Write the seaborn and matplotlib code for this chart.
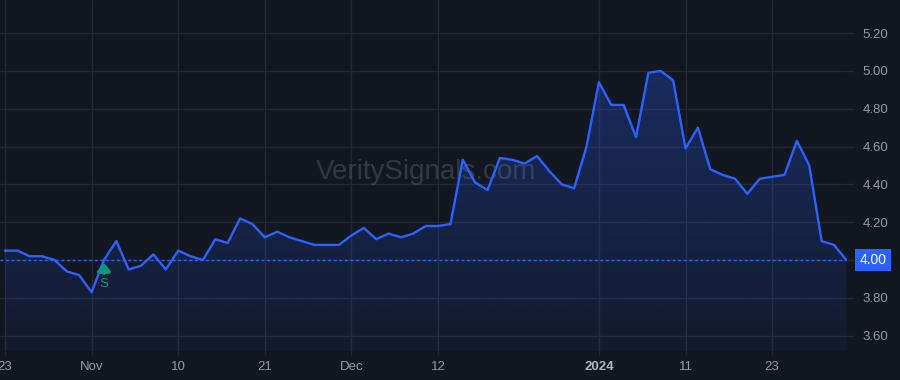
import numpy as np
import pandas as pd
import seaborn as sns
import matplotlib.pyplot as plt
from matplotlib.transforms import offset_copy

# closing prices, one per trading day from 2023-10-23 to 2024-01-31
prices = [4.05, 4.05, 4.02, 4.02, 4.00, 3.94, 3.92, 3.83, 4.00, 4.10,
          3.95, 3.97, 4.03, 3.95, 4.05, 4.02, 4.00, 4.11, 4.09, 4.22,
          4.19, 4.12, 4.15, 4.12, 4.10, 4.08, 4.08, 4.08, 4.13, 4.17,
          4.11, 4.14, 4.12, 4.14, 4.18, 4.18, 4.19, 4.53, 4.41, 4.37,
          4.54, 4.53, 4.51, 4.55, 4.47, 4.40, 4.38, 4.60, 4.94, 4.82,
          4.82, 4.65, 4.99, 5.00, 4.95, 4.59, 4.70, 4.48, 4.45, 4.43,
          4.35, 4.43, 4.44, 4.45, 4.63, 4.50, 4.10, 4.08, 4.00]
holidays = ['2023-11-23', '2023-12-25', '2024-01-01', '2024-01-15']
tick_dates = ['2023-10-23', '2023-11-01', '2023-11-10', '2023-11-21', '2023-12-01',
              '2023-12-12', '2024-01-02', '2024-01-11', '2024-01-23']
tick_labels = ['23', 'Nov', '10', '21', 'Dec', '12', '2024', '11', '23']
price_ticks = [3.60, 3.80, 4.00, 4.20, 4.40, 4.60, 4.80, 5.00, 5.20]
last_price = 4.00
signal_date = '2023-11-02'
signal_label = 'S'

dates = pd.bdate_range('2023-10-23', '2024-01-31', freq='C', holidays=holidays)
df = pd.DataFrame({'date': dates, 'price': prices})
df['idx'] = np.arange(len(df))

BG = '#131722'
GRID = '#242833'
TXT = '#9598a1'
BLUE = '#2962ff'

sns.set_theme(style='dark', rc={'axes.facecolor': BG, 'figure.facecolor': BG})
plt.rcParams['font.family'] = ['Liberation Sans', 'DejaVu Sans']

fig = plt.figure(figsize=(9, 3.8), dpi=100)
ax = fig.add_axes([0, 29 / 380, 847 / 900, 351 / 380])
ax.set_facecolor(BG)

# gradient area under the line
ymin, ymax = 3.519, 5.375
xmin, xmax = -0.4, 68.05
fill = ax.fill_between(df['idx'], df['price'], ymin, color='none', lw=0)
grad = np.zeros((256, 1, 4))
grad[:, 0, :3] = np.array([41, 98, 255]) / 255
grad[:, 0, 3] = np.linspace(0.28, 0.06, 256)
img = ax.imshow(grad, extent=[xmin, xmax, ymin, max(prices)], aspect='auto',
                origin='upper', zorder=1)
img.set_clip_path(fill.get_paths()[0], transform=ax.transData)

sns.lineplot(data=df, x='idx', y='price', color=BLUE, lw=1.7, ax=ax, zorder=3)

ax.axhline(last_price, color=BLUE, lw=1, ls=(0, (2, 2)), zorder=2)

ax.set_xlim(xmin, xmax)
ax.set_ylim(ymin, ymax)

tick_pos = [int(df.index[df['date'] == pd.Timestamp(d)][0]) for d in tick_dates]
ax.set_xticks(tick_pos)
ax.set_xticklabels(tick_labels)
ax.set_yticks(price_ticks)
# the last-price badge stands in for its own tick label
ax.set_yticklabels(['' if p == last_price else f'{p:.2f}' for p in price_ticks])
ax.yaxis.tick_right()
ax.set_xlabel('')
ax.set_ylabel('')
for s in ax.spines.values():
    s.set_visible(False)
ax.grid(True, color=GRID, lw=1)
ax.tick_params(axis='y', colors=GRID, labelcolor=TXT, labelsize=9.5, length=5, width=1, pad=6, right=True)
ax.tick_params(axis='x', colors=GRID, labelcolor=TXT, labelsize=9.5, length=3, width=1, pad=4, bottom=True)
for lab in ax.get_xticklabels():
    if lab.get_text() == '2024':
        lab.set_fontweight('bold')
        lab.set_color('#b2b5be')

# last price badge
ax.text(1.0 + 26 / 847, last_price, f'{last_price:.2f}', transform=ax.get_yaxis_transform(),
        ha='center', va='center', color='white', fontsize=10, zorder=10, clip_on=False,
        bbox=dict(boxstyle='square,pad=0.3', fc=BLUE, ec='none'))

# signal marker
si = int(df.index[df['date'] == pd.Timestamp(signal_date)][0])
sv = prices[si]
tip = offset_copy(ax.transData, fig=fig, x=0, y=-3, units='dots')
base = offset_copy(ax.transData, fig=fig, x=0, y=-13, units='dots')
ax.annotate('', xy=(si, sv), xycoords=tip, xytext=(si, sv), textcoords=base,
            arrowprops=dict(arrowstyle='-|>,head_width=0.3,head_length=0.35',
                            color='#089981', lw=2.8, shrinkA=0, shrinkB=0), zorder=6)
ax.annotate(signal_label, xy=(si, sv), xytext=(0, -17), textcoords='offset points',
            ha='center', va='center', color='#089981', fontsize=9.5, zorder=6)

# watermark
ax.text(0.503, 0.51, 'VeritySignals.com', transform=ax.transAxes, ha='center', va='center',
        fontsize=20, color='#787b86', alpha=0.33, zorder=2)

fig.savefig('out.png', dpi=100, facecolor=BG)
